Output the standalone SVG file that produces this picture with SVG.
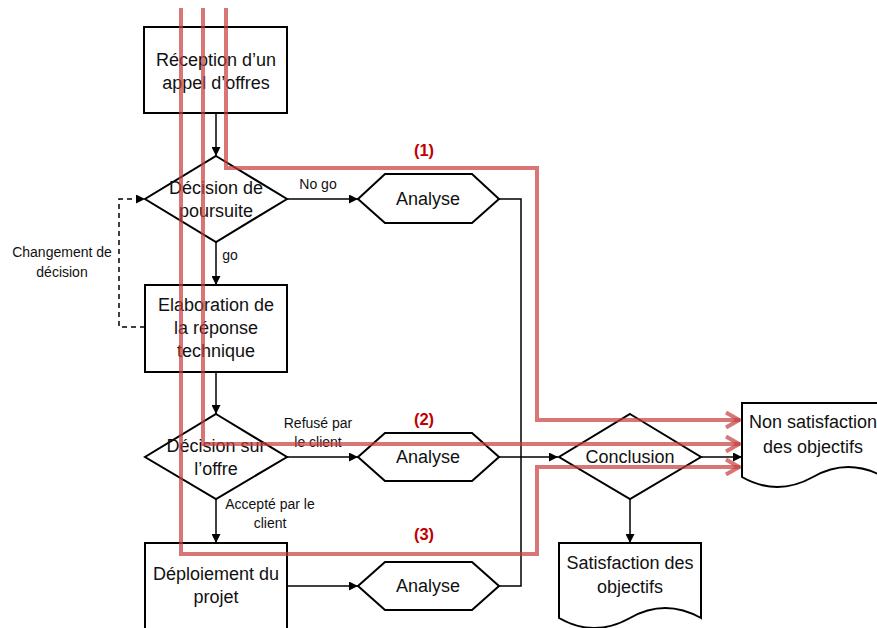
<svg xmlns="http://www.w3.org/2000/svg" width="877" height="628" viewBox="0 0 877 628">
<style>
.sh{fill:#fff;stroke:#000;stroke-width:2}
.t{font-family:"Liberation Sans",Arial,sans-serif;font-size:18px;fill:#111;text-anchor:middle}
.l{font-family:"Liberation Sans",Arial,sans-serif;font-size:14px;fill:#111;text-anchor:middle}
.c{fill:none;stroke:#000;stroke-width:1.5}
.d{fill:none;stroke:#000;stroke-width:1.5;stroke-dasharray:5 4}
.r{fill:none;stroke:rgb(200,60,60);stroke-opacity:0.7;stroke-width:4;stroke-linejoin:miter}
.n{font-family:"Liberation Sans",Arial,sans-serif;font-size:16.5px;font-weight:bold;fill:#c00000;text-anchor:middle}
</style>
<defs>
<marker id="a" viewBox="0 0 10 10" refX="10" refY="5" markerWidth="10" markerHeight="9" markerUnits="userSpaceOnUse" orient="auto">
<path d="M0,0 L10,5 L0,10 Z" fill="#000"/>
</marker>
<marker id="ra" viewBox="0 0 16 18" refX="15" refY="9" markerWidth="16" markerHeight="18" markerUnits="userSpaceOnUse" orient="auto">
<path d="M1,1.5 L14,9 L1,16.5" fill="none" stroke="rgb(200,60,60)" stroke-opacity="0.7" stroke-width="4"/>
</marker>
</defs>
<rect width="877" height="628" fill="#fff"/>
<g id="connectors">
<path class="c" d="M216,113 V156" marker-end="url(#a)"/>
<path class="c" d="M287,199 H358" marker-end="url(#a)"/>
<path class="c" d="M216,242 V285" marker-end="url(#a)"/>
<path class="d" d="M145,327 H119 V199 H145" marker-end="url(#a)"/>
<path class="c" d="M216,372 V414" marker-end="url(#a)"/>
<path class="c" d="M287,457 H358" marker-end="url(#a)"/>
<path class="c" d="M216,499 V543" marker-end="url(#a)"/>
<path class="c" d="M287,586 H358" marker-end="url(#a)"/>
<path class="c" d="M499,199 H521 V586 H499"/>
<path class="c" d="M499,457 H558" marker-end="url(#a)"/>
<path class="c" d="M701,457 H742" marker-end="url(#a)"/>
<path class="c" d="M630,499 V543" marker-end="url(#a)"/>
<text class="l" x="318" y="189">No go</text>
<text class="l" x="230" y="260">go</text>
<text class="l" x="62" y="257">Changement de</text>
<text class="l" x="62" y="277">décision</text>
<text class="l" x="318" y="428">Refusé par</text>
<text class="l" x="318" y="447">le client</text>
<text class="l" x="270" y="509">Accepté par le</text>
<text class="l" x="270" y="528">client</text>
</g>
<g id="reception">
<rect class="sh" x="144" y="27" width="143" height="86"/>
<text class="t" x="216" y="66">Réception d’un</text>
<text class="t" x="216" y="89">appel d’offres</text>
</g>
<g id="decision1">
<path class="sh" d="M216,156 L287,199 L216,242 L145,199 Z"/>
<text class="t" x="216" y="194">Décision de</text>
<text class="t" x="216" y="217">poursuite</text>
</g>
<g id="analyse1">
<path class="sh" d="M358,199 L385,174 H472 L499,199 L472,223 H385 Z"/>
<text class="t" x="428" y="205">Analyse</text>
</g>
<g id="elaboration">
<rect class="sh" x="145" y="285" width="142" height="87"/>
<text class="t" x="216" y="311">Elaboration de</text>
<text class="t" x="216" y="334">la réponse</text>
<text class="t" x="216" y="357">technique</text>
</g>
<g id="decision2">
<path class="sh" d="M216,414 L287,457 L216,499 L145,457 Z"/>
<text class="t" x="216" y="452">Décision sur</text>
<text class="t" x="216" y="475">l’offre</text>
</g>
<g id="analyse2">
<path class="sh" d="M358,457 L385,433 H472 L499,457 L472,481 H385 Z"/>
<text class="t" x="428" y="463">Analyse</text>
</g>
<g id="deploiement">
<rect class="sh" x="145" y="543" width="142" height="100"/>
<text class="t" x="216" y="580">Déploiement du</text>
<text class="t" x="216" y="603">projet</text>
</g>
<g id="analyse3">
<path class="sh" d="M358,586 L385,562 H472 L499,586 L472,610 H385 Z"/>
<text class="t" x="428" y="592">Analyse</text>
</g>
<g id="conclusion">
<path class="sh" d="M630,414 L701,457 L630,499 L559,457 Z"/>
<text class="t" x="630" y="463">Conclusion</text>
</g>
<g id="non-satisfaction">
<path class="sh" d="M742,403 H884 V477 Q848,457 813,477 Q777,497 742,477 Z"/>
<text class="t" x="813" y="428">Non satisfaction</text>
<text class="t" x="813" y="453">des objectifs</text>
</g>
<g id="satisfaction">
<path class="sh" d="M559,543 H701 V618 Q665,598 630,618 Q594,638 559,618 Z"/>
<text class="t" x="630" y="569">Satisfaction des</text>
<text class="t" x="630" y="593">objectifs</text>
</g>
<g id="paths">
<path class="r" d="M226,8 V168 H537 V420 H740" marker-end="url(#ra)"/>
<path class="r" d="M203,8 V444 H740" marker-end="url(#ra)"/>
<path class="r" d="M181,8 V554 H537 V467 H740" marker-end="url(#ra)"/>
<text class="n" x="424" y="156">(1)</text>
<text class="n" x="424" y="425">(2)</text>
<text class="n" x="424" y="540">(3)</text>
</g>
</svg>
